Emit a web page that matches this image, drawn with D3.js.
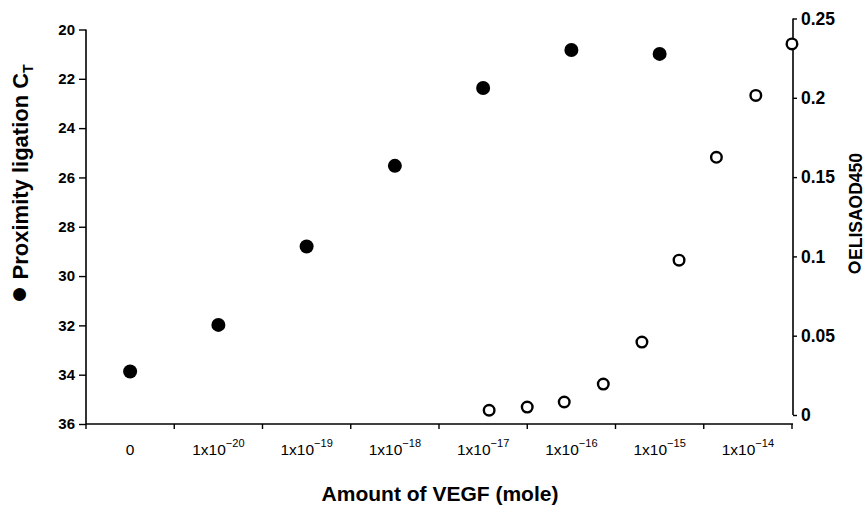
<!DOCTYPE html>
<html><head><meta charset="utf-8">
<script src="https://cdn.jsdelivr.net/npm/d3@7"></script>
<style>body{margin:0;background:#fff;} svg{display:block;font-family:"Liberation Sans",Arial,sans-serif;}</style>
</head><body>
<svg id="c" width="866" height="506"></svg>
<script>
// Categories on the x axis (exponent; null = "0")
const categories = ["0", "1e-20", "1e-19", "1e-18", "1e-17", "1e-16", "1e-15", "1e-14"];
const categoryExponents = [null, -20, -19, -18, -17, -16, -15, -14];
// Proximity ligation Ct (filled circles), one per category 0 .. 1e-15
const plaCategories = ["0", "1e-20", "1e-19", "1e-18", "1e-17", "1e-16", "1e-15"];
const plaCt = [33.87, 31.98, 28.8, 25.53, 22.37, 20.83, 20.99];
// ELISA OD450 (open circles), amounts in mole
const elisaAmount = [1.17e-17, 3.16e-17, 8.3e-17, 2.3e-16, 6.3e-16, 1.66e-15, 4.4e-15, 1.23e-14, 3.16e-14];
const elisaOD = [0.003, 0.005, 0.0082, 0.0195, 0.046, 0.0976, 0.1625, 0.2015, 0.234];
// Tick labels
const leftTicks = [20, 22, 24, 26, 28, 30, 32, 34, 36];
const rightTicks = [0, 0.05, 0.1, 0.15, 0.2, 0.25];

const FONT = "'Liberation Sans',Arial,sans-serif";
const svg = d3.select("#c");
const L = 86, R = 792, B = 424;

const x = d3.scaleBand().domain(categories).range([L, R]).paddingInner(0).paddingOuter(0);
const bw = x.bandwidth();
const xLog = d3.scaleLog().domain([1e-20, 1e-14])
  .range([x("1e-20") + bw / 2, x("1e-14") + bw / 2]);
const yL = d3.scaleLinear().domain([20, 36]).range([29.5, 424]);
const yR = d3.scaleLinear().domain([0, 0.25]).range([415, 18.5]);

// X axis
const xAxis = svg.append("g");
xAxis.append("line").attr("x1", L).attr("x2", R + 1).attr("y1", B).attr("y2", B)
  .attr("stroke", "#000").attr("stroke-width", 1.6);
const edges = categories.map(c => x(c)).concat([R]);
xAxis.selectAll("line.t").data(edges).join("line").attr("class", "t")
  .attr("x1", d => d).attr("x2", d => d).attr("y1", B).attr("y2", B + 5)
  .attr("stroke", "#000").attr("stroke-width", 1.4);
const xl = xAxis.selectAll("text.xl").data(categories).join("text").attr("class", "xl")
  .attr("x", d => x(d) + bw / 2).attr("y", 455).attr("text-anchor", "middle")
  .attr("font-size", 15.5).attr("fill", "#000");
xl.each(function(d, i) {
  const t = d3.select(this);
  const e = categoryExponents[i];
  if (e === null) { t.text("0"); return; }
  t.append("tspan").text("1x10");
  t.append("tspan").attr("dy", -8).attr("font-size", 11).text("\u2212" + Math.abs(e));
});

// Left axis
const yLAxis = svg.append("g").attr("transform", `translate(${L},0)`)
  .call(d3.axisLeft(yL).tickValues(leftTicks).tickSize(7).tickPadding(4).tickFormat(d3.format("d")));
yLAxis.select(".domain").attr("d", `M0,${yL(20)}V${B}`).attr("stroke-width", 1.6);
yLAxis.selectAll(".tick line").attr("stroke-width", 1.4);
yLAxis.selectAll("text").attr("font-size", 15).attr("font-weight", "bold").attr("font-family", FONT);

// Right axis
const yRAxis = svg.append("g").attr("transform", `translate(${R + 1},0)`)
  .call(d3.axisRight(yR).tickValues(rightTicks).tickSize(4).tickPadding(4)
    .tickFormat(d => d === 0 ? "0" : String(+d.toFixed(2))));
yRAxis.select(".domain").attr("d", `M0,${yR(0.25)}V${yR(0)}`).attr("stroke-width", 1.6);
yRAxis.selectAll(".tick line").attr("stroke-width", 1.4);
yRAxis.selectAll("text").attr("font-size", 17.5).attr("font-weight", "bold").attr("font-family", FONT);

// Points: filled
svg.append("g").selectAll("circle").data(plaCategories.map((c, i) => [c, plaCt[i]])).join("circle")
  .attr("cx", d => x(d[0]) + bw / 2).attr("cy", d => yL(d[1])).attr("r", 7).attr("fill", "#000");
// Points: open
svg.append("g").selectAll("circle").data(elisaAmount.map((a, i) => [a, elisaOD[i]])).join("circle")
  .attr("cx", d => xLog(d[0])).attr("cy", d => yR(d[1])).attr("r", 5.3)
  .attr("fill", "#fff").attr("stroke", "#000").attr("stroke-width", 2.4);

// Axis titles
svg.append("text").attr("x", 440).attr("y", 501).attr("text-anchor", "middle")
  .attr("font-size", 21).attr("font-weight", "bold").text("Amount of VEGF (mole)");

const lt = svg.append("text").attr("transform", "translate(28,184) rotate(-90)")
  .attr("text-anchor", "middle").attr("font-size", 22).attr("font-weight", "bold");
lt.append("tspan").attr("font-size", 30).text("\u25CF");
lt.append("tspan").text(" Proximity ligation C");
lt.append("tspan").attr("dy", 5).attr("font-size", 14).text("T");

const rt = svg.append("text").attr("transform", "translate(862,214) rotate(-90)")
  .attr("text-anchor", "middle").attr("font-size", 17.5).attr("font-weight", "bold");
rt.append("tspan").attr("font-size", 25).attr("stroke", "#000").attr("stroke-width", 1.3).text("\u25CB");
rt.append("tspan").text("ELISAOD450");
</script>
</body></html>
